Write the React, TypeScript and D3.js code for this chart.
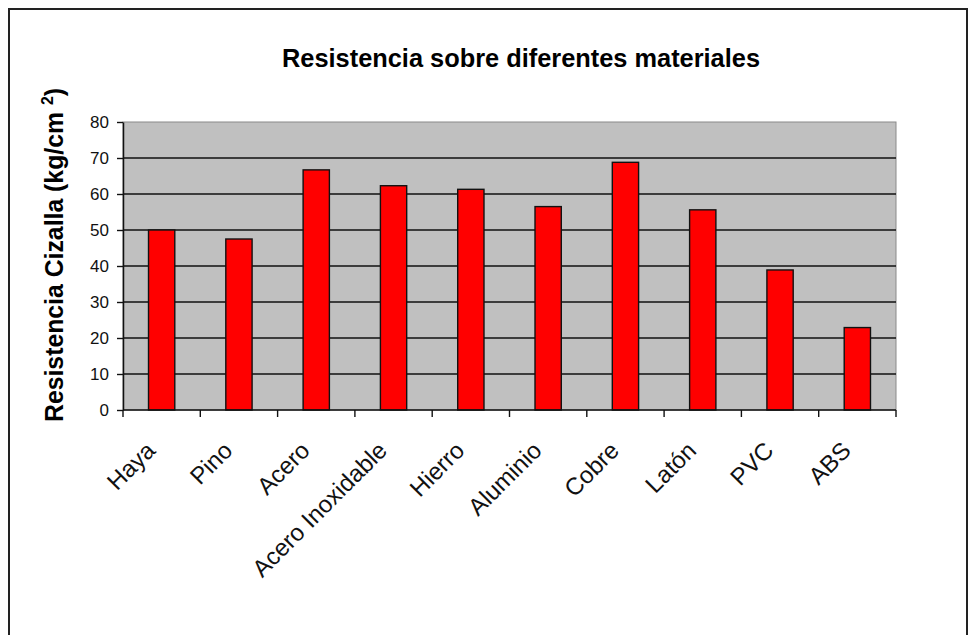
import * as React from "react";
import * as d3 from "d3";

const materials = ["Haya", "Pino", "Acero", "Acero Inoxidable", "Hierro", "Aluminio", "Cobre", "Latón", "PVC", "ABS"];
const resistance = [50, 47.5, 66.7, 62.3, 61.3, 56.5, 68.8, 55.6, 38.9, 22.9];
const yTicks = [0, 10, 20, 30, 40, 50, 60, 70, 80];

const W = 973;
const H = 635;
const margin = { left: 123, top: 122, right: 77, bottom: 225 };
const FONT = "'Liberation Sans', Arial, sans-serif";

export default function App() {
    const ref = React.useRef<SVGSVGElement>(null);

    React.useEffect(() => {
        const svg = d3.select(ref.current);
        svg.selectAll("*").remove();

        const plotW = W - margin.left - margin.right;
        const plotH = H - margin.top - margin.bottom;

        // outer frame, open at the bottom
        svg.append("path")
            .attr("d", `M9,${H + 5}V9H967V${H + 5}`)
            .attr("fill", "none")
            .attr("stroke", "#222")
            .attr("stroke-width", 2);

        svg.append("text")
            .attr("x", 521)
            .attr("y", 67)
            .attr("text-anchor", "middle")
            .attr("font-family", FONT)
            .attr("font-weight", "bold")
            .attr("font-size", 25)
            .attr("textLength", 478)
            .attr("lengthAdjust", "spacingAndGlyphs")
            .text("Resistencia sobre diferentes materiales");

        const g = svg.append("g").attr("transform", `translate(${margin.left},${margin.top})`);

        const x = d3.scaleBand<string>().domain(materials).range([0, plotW]).paddingInner(0.66).paddingOuter(0.33);
        const y = d3.scaleLinear().domain([0, 80]).range([plotH, 0]);

        g.append("rect")
            .attr("width", plotW)
            .attr("height", plotH)
            .attr("fill", "#c0c0c0")
            .attr("stroke", "#8a8a8a")
            .attr("stroke-width", 1);

        g.append("g")
            .selectAll("line")
            .data(yTicks.filter(t => t > 0 && t < 80))
            .enter().append("line")
            .attr("x1", 0)
            .attr("x2", plotW)
            .attr("y1", d => y(d))
            .attr("y2", d => y(d))
            .attr("stroke", "#111")
            .attr("stroke-width", 1.4);

        g.append("g")
            .selectAll("rect")
            .data(resistance)
            .enter().append("rect")
            .attr("x", (d, i) => x(materials[i])!)
            .attr("y", d => y(d))
            .attr("width", x.bandwidth())
            .attr("height", d => plotH - y(d))
            .attr("fill", "#ff0000")
            .attr("stroke", "#111")
            .attr("stroke-width", 1.4);

        // y axis
        const yAxis = g.append("g")
            .call(d3.axisLeft(y).tickValues(yTicks).tickSize(6).tickSizeOuter(0).tickPadding(8));
        yAxis.select(".domain").attr("stroke", "#111").attr("stroke-width", 1.5);
        yAxis.selectAll(".tick line").attr("stroke", "#111").attr("stroke-width", 1.4);
        yAxis.selectAll("text")
            .attr("font-family", FONT)
            .attr("font-size", 17)
            .attr("fill", "#111");

        // x axis: ticks at category boundaries
        const xAxis = g.append("g").attr("transform", `translate(0,${plotH})`);
        xAxis.append("line")
            .attr("x1", 0).attr("x2", plotW)
            .attr("stroke", "#111").attr("stroke-width", 1.5);
        const step = x.step();
        xAxis.selectAll("line.tick")
            .data(d3.range(materials.length + 1))
            .enter().append("line")
            .attr("class", "tick")
            .attr("x1", i => i * step)
            .attr("x2", i => i * step)
            .attr("y1", 0)
            .attr("y2", 7)
            .attr("stroke", "#111")
            .attr("stroke-width", 1.4);
        xAxis.selectAll("text")
            .data(materials)
            .enter().append("text")
            .attr("transform", d => `translate(${x(d)! + x.bandwidth() / 2 - 5},${42}) rotate(-45)`)
            .attr("text-anchor", "end")
            .attr("font-family", FONT)
            .attr("font-size", 24)
            .attr("fill", "#111")
            .text(d => d);

        // y title
        const yl = svg.append("text")
            .attr("transform", `translate(63,255) rotate(-90)`)
            .attr("text-anchor", "middle")
            .attr("font-family", FONT)
            .attr("font-weight", "bold")
            .attr("font-size", 25)
            .attr("textLength", 334)
            .attr("lengthAdjust", "spacingAndGlyphs");
        yl.append("tspan").text("Resistencia Cizalla (kg/cm ");
        yl.append("tspan").attr("dy", -10).attr("font-size", 16).text("2");
        yl.append("tspan").attr("dy", 10).text(")");
    }, []);

    return <svg ref={ref} width={W} height={H} style={{ position: "absolute", left: 0, top: 0, background: "#fff" }}></svg>;
}
